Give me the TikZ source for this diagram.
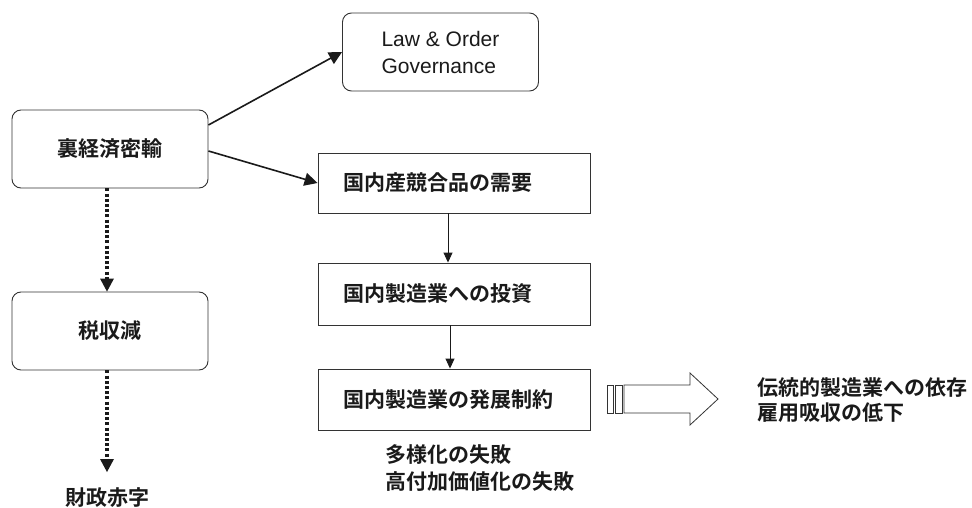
\documentclass[tikz,border=0pt]{standalone}
\usepackage{fontspec}
\setmainfont{Liberation Sans}
\newfontfamily\jp{Noto Sans CJK JP}[BoldFont={* Bold}]
\usetikzlibrary{arrows.meta}
\definecolor{edge}{HTML}{333333}
\definecolor{ink}{HTML}{1A1A1A}
\tikzset{
  rbox/.style={draw=edge, line width=0.9pt, rounded corners=9pt, minimum width=196pt, minimum height=78pt, inner sep=0pt, text=ink},
  sbox/.style={draw=edge, line width=0.9pt, minimum width=272pt, text width=222pt, inner xsep=25pt, inner ysep=0pt, align=left, text=ink},
  jtxt/.style={font=\jp\bfseries\fontsize{21}{27}\selectfont, text=ink},
  thick arrow/.style={draw=ink, line width=1.6pt, -{Triangle[width=13pt,length=13pt]}},
  thin arrow/.style={draw=ink, line width=0.9pt, -{Triangle[width=9pt,length=10pt]}},
  dot arrow/.style={draw=ink, line width=3.2pt, dash pattern=on 3pt off 2.2pt, -{Triangle[width=14pt,length=13pt, line width=0pt]}},
  hollow/.style={draw=edge, line width=0.8pt, fill=white}
}
\begin{document}
\begin{tikzpicture}[x=1pt,y=-1pt]
\useasboundingbox (0,0) rectangle (972,508);
% boxes
\node[rbox, font=\fontsize{21}{27}\selectfont, align=left] (law) at (440.5,52) {Law \& Order\\Governance};
\node[rbox, jtxt] (smug) at (110,149) {裏経済密輸};
\node[rbox, jtxt] (tax) at (110,331) {税収減};
\node[jtxt, anchor=north, inner sep=0pt] (deficit) at (107,487) {財政赤字};
\node[sbox, jtxt, minimum height=60pt] (demand) at (454,183) {国内産競合品の需要};
\node[sbox, jtxt, minimum height=62pt] (invest) at (454,294) {国内製造業への投資};
\node[sbox, jtxt, minimum height=61pt] (limit) at (454,399.5) {国内製造業の発展制約};
\node[jtxt, anchor=west, align=left, inner sep=0pt] (fail) at (385,468.5) {多様化の失敗\\高付加価値化の失敗};
\node[jtxt, anchor=west, align=left, inner sep=0pt, font=\jp\bfseries\fontsize{21}{25}\selectfont] (result) at (757,400.5) {伝統的製造業への依存\\雇用吸収の低下};
% connectors
\draw[thick arrow] ([yshift=24pt]smug.east) -- (law.west);
\draw[thick arrow] ([yshift=-2pt]smug.east) -- (demand.west);
\draw[thin arrow] ([xshift=-6pt]demand.south) -- ([xshift=-6pt]invest.north);
\draw[thin arrow] ([xshift=-4pt]invest.south) -- ([xshift=-4pt]limit.north);
\draw[dot arrow] ([xshift=-3pt]smug.south) -- ([xshift=-3pt]tax.north);
\draw[dot arrow] ([xshift=-3pt]tax.south) -- ([yshift=15pt]deficit.north);
% hollow block arrow
\draw[hollow] (607,385) rectangle (613,413);
\draw[hollow] (615,385) rectangle (622,413);
\draw[hollow] (624,385) -- (690,385) -- (690,373) -- (718,399) -- (690,425) -- (690,413) -- (624,413) -- cycle;
\end{tikzpicture}
\end{document}
